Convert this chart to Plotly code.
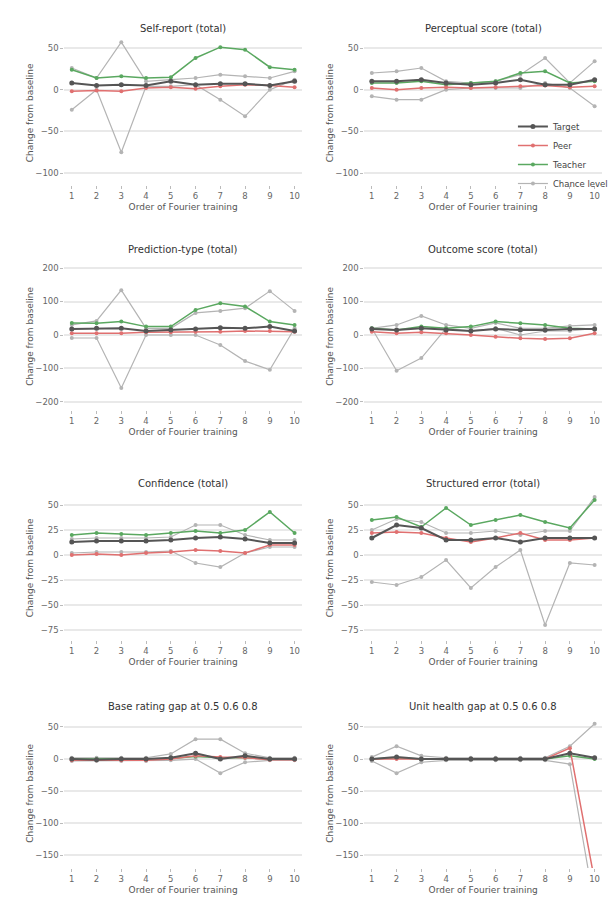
import plotly.graph_objects as go
from plotly.subplots import make_subplots

sessions = list(range(1, 11))

panel_titles = [
    "Self-report (total)",
    "Perceptual score (total)",
    "Prediction-type (total)",
    "Outcome score (total)",
    "Confidence (total)",
    "Structured error (total)",
    "Base rating gap at 0.5 0.6 0.8",
    "Unit health gap at 0.5 0.6 0.8",
]
series_names = ["Target", "Peer", "Teacher", "Chance level"]

# one list per series and panel (panel order: row by row, left to right)
target = [
    [8, 5, 6, 5, 10, 6, 7, 7, 5, 10],
    [10, 10, 12, 8, 6, 8, 12, 6, 6, 12],
    [18, 20, 20, 12, 15, 18, 22, 20, 25, 12],
    [18, 15, 20, 15, 12, 18, 15, 15, 18, 18],
    [13, 14, 14, 14, 15, 17, 18, 16, 12, 12],
    [17, 30, 27, 15, 15, 17, 13, 17, 17, 17],
    [0, -1, 0, 0, 2, 9, 0, 5, 0, 0],
    [0, 3, 0, 0, 0, 0, 0, 0, 9, 2],
]
peer = [
    [-2, -1, -2, 2, 3, 1, 4, 6, 5, 3],
    [2, 0, 2, 3, 2, 3, 4, 5, 3, 4],
    [5, 5, 5, 8, 8, 10, 10, 12, 12, 10],
    [10, 5, 8, 5, 0, -5, -10, -12, -10, 5],
    [0, 1, 0, 2, 3, 5, 4, 2, 10, 10],
    [22, 23, 22, 17, 13, 17, 22, 15, 15, 17],
    [-2, -2, -2, -2, 0, 5, 3, 2, -1, -1],
    [0, 0, 0, 0, 0, 0, 0, 0, 17, -190],
]
teacher = [
    [24, 14, 16, 14, 15, 38, 51, 48, 27, 24],
    [8, 8, 10, 6, 8, 10, 20, 22, 8, 10],
    [36, 35, 40, 25, 25, 75, 95, 85, 40, 30],
    [20, 15, 25, 20, 25, 40, 35, 30, 20, 18],
    [20, 22, 21, 20, 22, 24, 22, 25, 43, 22],
    [35, 38, 28, 47, 30, 35, 40, 33, 27, 55],
    [0, 0, 0, 0, 1, 4, 2, 2, 0, 0],
    [0, 2, 0, 0, 0, 0, 0, 0, 5, 0],
]
chance_high = [
    [26, 14, 57, 10, 12, 14, 18, 16, 14, 22],
    [20, 22, 26, 10, 8, 10, 18, 38, 8, 34],
    [30, 42, 134, 20, 20, 66, 72, 80, 131, 72],
    [20, 30, 57, 30, 20, 36, 20, 20, 27, 30],
    [16, 17, 17, 17, 18, 30, 30, 20, 15, 15],
    [25, 36, 33, 22, 22, 24, 20, 24, 24, 58],
    [2, 2, 2, 2, 8, 31, 31, 9, 2, 2],
    [3, 20, 5, 2, 2, 2, 2, 2, 20, 55],
]
chance_low = [
    [-24, 0, -75, 4, 4, 6, -12, -32, 0, 12],
    [-8, -12, -12, 0, 2, 2, 2, 8, 2, -20],
    [-9, -9, -158, 0, 0, 0, -30, -78, -104, 20],
    [20, -107, -69, 20, 12, 20, 0, 12, 12, 20],
    [2, 3, 3, 3, 4, -8, -12, 2, 8, 8],
    [-27, -30, -22, -5, -33, -12, 5, -70, -8, -10],
    [-3, -3, -3, -3, -2, 0, -22, -5, -2, -2],
    [-3, -22, -5, -2, -2, -2, -2, -2, -8, -230],
]

y_ranges = [
    [-114.4, 59.6], [-114.4, 59.6],
    [-224, 218], [-224, 218],
    [-85, 60], [-85, 60],
    [-170, 64], [-170, 64],
]
y_tickvals = [
    [50, 0, -50, -100], [50, 0, -50, -100],
    [200, 100, 0, -100, -200], [200, 100, 0, -100, -200],
    [50, 25, 0, -25, -50, -75], [50, 25, 0, -25, -50, -75],
    [50, 0, -50, -100, -150], [50, 0, -50, -100, -150],
]

x_title = "Order of Fourier training"
y_title = "Change from baseline"

W, H = 613, 899
col_px = [(65, 305), (368, 608)]
row_px = [(40, 185), (262, 410), (495, 640), (718, 868)]

C_TARGET = "#555555"
C_PEER = "#e07070"
C_TEACHER = "#5aa860"
C_CHANCE = "#b4b4b4"
FONT = "DejaVu Sans"

fig = make_subplots(rows=4, cols=2)

for i in range(8):
    r, c = i // 2 + 1, i % 2 + 1
    first = i == 0
    fig.add_trace(go.Scatter(
        x=sessions, y=chance_high[i], mode="lines+markers", name=series_names[3],
        legendgroup="chance", showlegend=first, legendrank=4,
        line=dict(color=C_CHANCE, width=1.2), marker=dict(size=4, color=C_CHANCE)),
        row=r, col=c)
    fig.add_trace(go.Scatter(
        x=sessions, y=chance_low[i], mode="lines+markers", name=series_names[3],
        legendgroup="chance", showlegend=False, legendrank=4,
        line=dict(color=C_CHANCE, width=1.2), marker=dict(size=4, color=C_CHANCE)),
        row=r, col=c)
    fig.add_trace(go.Scatter(
        x=sessions, y=teacher[i], mode="lines+markers", name=series_names[2],
        legendgroup="teacher", showlegend=first, legendrank=3,
        line=dict(color=C_TEACHER, width=1.5), marker=dict(size=4, color=C_TEACHER)),
        row=r, col=c)
    fig.add_trace(go.Scatter(
        x=sessions, y=peer[i], mode="lines+markers", name=series_names[1],
        legendgroup="peer", showlegend=first, legendrank=2,
        line=dict(color=C_PEER, width=1.5), marker=dict(size=4, color=C_PEER)),
        row=r, col=c)
    fig.add_trace(go.Scatter(
        x=sessions, y=target[i], mode="lines+markers", name=series_names[0],
        legendgroup="target", showlegend=first, legendrank=1,
        line=dict(color=C_TARGET, width=2), marker=dict(size=5, color=C_TARGET)),
        row=r, col=c)

annotations = []
for i in range(8):
    r, c = i // 2, i % 2
    n = "" if i == 0 else str(i + 1)
    x0, x1 = col_px[c]
    y0, y1 = row_px[r]
    fig.layout[f"xaxis{n}"].update(
        domain=[x0 / W, x1 / W], range=[0.7, 10.3],
        tickvals=sessions, ticks="outside", ticklen=3, tickcolor="#bbbbbb",
        showgrid=False, zeroline=False, showline=False,
        tickfont=dict(size=8.5, color="#666666", family=FONT),
        title=dict(text=x_title, standoff=3,
                   font=dict(size=9, color="#555555", family=FONT)),
    )
    fig.layout[f"yaxis{n}"].update(
        domain=[1 - y1 / H, 1 - y0 / H], range=y_ranges[i],
        tickvals=y_tickvals[i], ticks="outside", ticklen=3, tickcolor="#bbbbbb",
        showgrid=True, gridcolor="#e9e9e9", gridwidth=1.5,
        zeroline=False, showline=False,
        tickfont=dict(size=8.5, color="#666666", family=FONT),
    )
    annotations.append(dict(
        text=panel_titles[i], x=(x0 + x1) / 2 / W, y=1 - (y0 - 12) / H,
        xref="paper", yref="paper", xanchor="center", yanchor="middle",
        showarrow=False, font=dict(size=10, color="#333333", family=FONT)))
    annotations.append(dict(
        text=y_title, x=(x0 - 35) / W, y=1 - (y0 + y1) / 2 / H,
        xref="paper", yref="paper", xanchor="center", yanchor="middle",
        textangle=-90, showarrow=False,
        font=dict(size=9, color="#555555", family=FONT)))

fig.update_layout(
    width=W, height=H,
    margin=dict(l=0, r=0, t=0, b=0),
    paper_bgcolor="white", plot_bgcolor="white",
    font=dict(family=FONT, color="#555555"),
    annotations=annotations,
    showlegend=True,
    legend=dict(
        x=518 / W, y=1 - 112 / H, xanchor="left", yanchor="top",
        traceorder="normal",
        bgcolor="rgba(255,255,255,0)", font=dict(size=8.5, color="#444444", family=FONT),
        itemwidth=30, tracegroupgap=0,
    ),
)

fig.write_html("out.html")
